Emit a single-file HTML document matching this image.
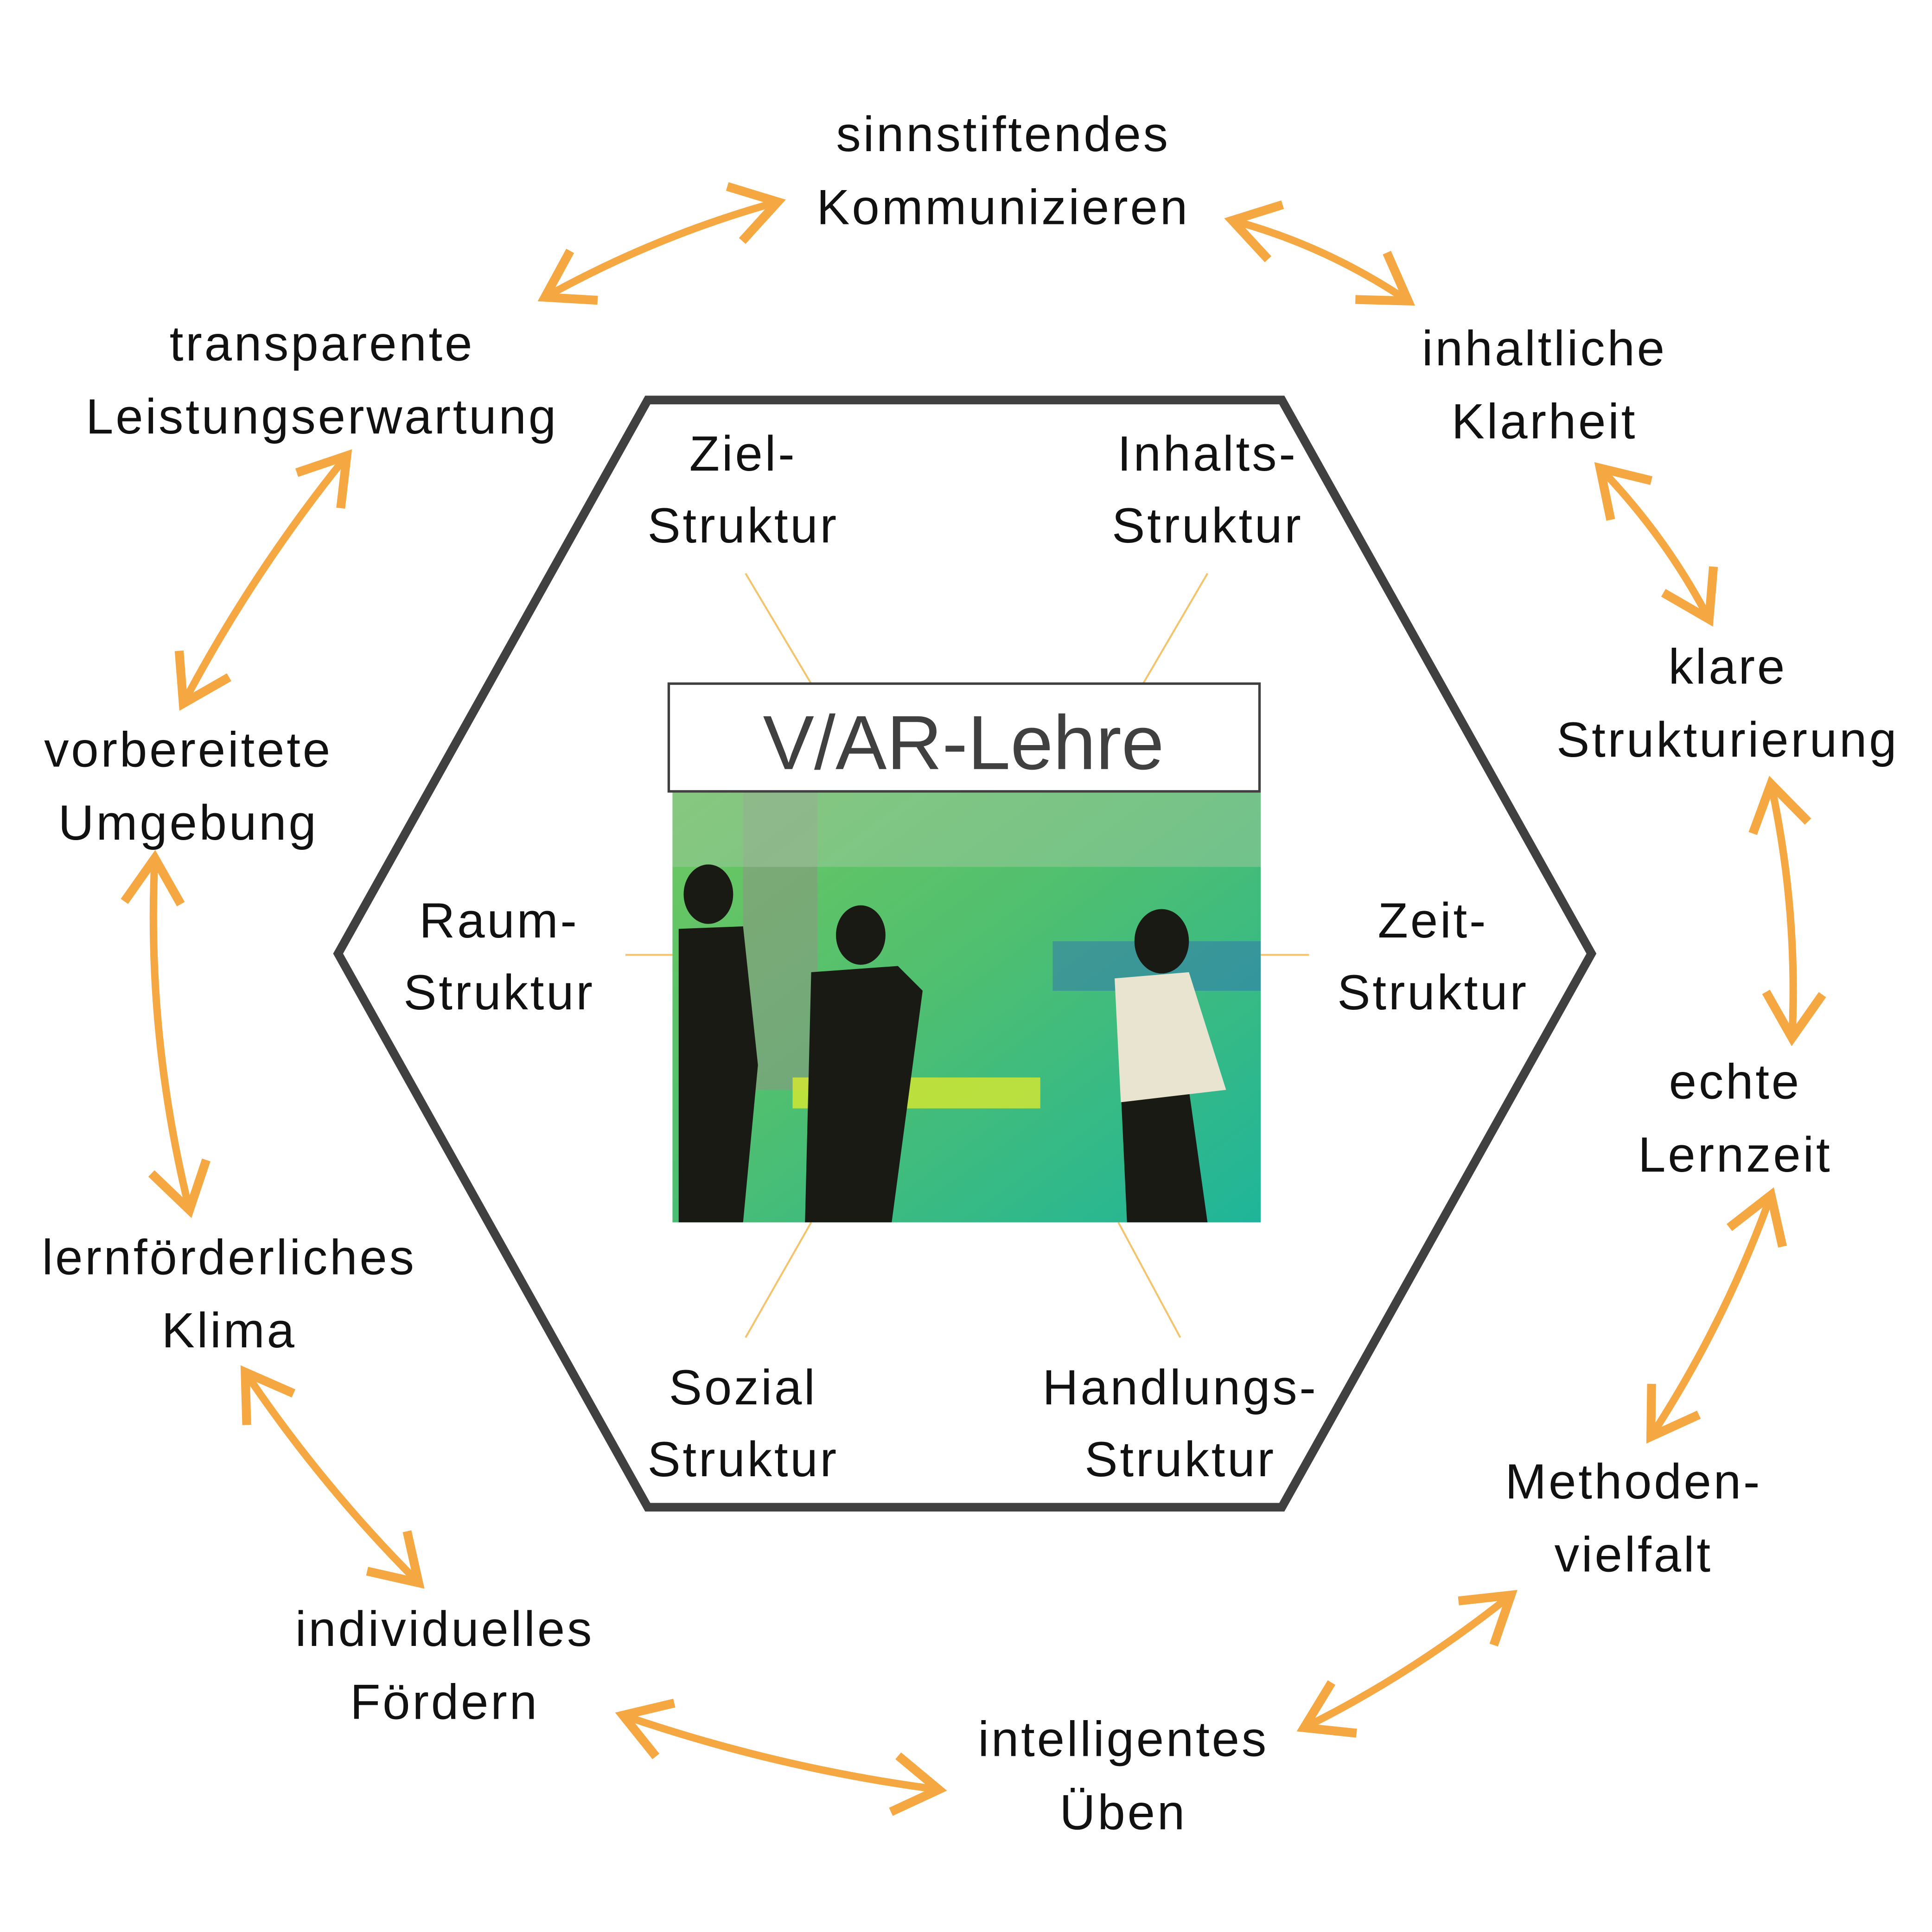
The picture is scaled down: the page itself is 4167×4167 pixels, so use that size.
<!DOCTYPE html>
<html><head><meta charset="utf-8">
<style>
html,body{margin:0;padding:0;background:#fff;}
svg{display:block;}
text{font-family:"Liberation Sans",sans-serif;fill:#111;}
.lb{letter-spacing:1.8px;}
</style></head>
<body>
<svg width="4167" height="4167" viewBox="0 0 1560 1560" xmlns="http://www.w3.org/2000/svg">
<defs>
<marker id="ah" markerUnits="userSpaceOnUse" markerWidth="60" markerHeight="60" viewBox="0 0 50 50" refX="42" refY="25" orient="auto-start-reverse">
<path d="M12,6 L42,25 L12,44" fill="none" stroke="#F5A742" stroke-width="6"/>
</marker>
<linearGradient id="pg" x1="0" y1="0" x2="1" y2="1">
<stop offset="0" stop-color="#6fc860"/>
<stop offset="0.45" stop-color="#4fbf70"/>
<stop offset="1" stop-color="#1fb59a"/>
</linearGradient>
</defs>
<rect width="1560" height="1560" fill="#fff"/>
<polygon points="523,323 1035,323 1285,770 1035,1217 523,1217 273,770" fill="none" stroke="#404040" stroke-width="7"/>
<g stroke="#F5C36B" stroke-width="1.5">
<line x1="602" y1="463" x2="655" y2="552"/>
<line x1="975" y1="463" x2="923" y2="552"/>
<line x1="505" y1="771" x2="543" y2="771"/>
<line x1="1018" y1="771" x2="1057" y2="771"/>
<line x1="655" y1="987" x2="602" y2="1080"/>
<line x1="903" y1="987" x2="953" y2="1080"/>
</g>
<rect x="540" y="552" width="477" height="87" fill="#fff" stroke="#404040" stroke-width="2"/>
<text x="778" y="621" font-size="62" text-anchor="middle" style="fill:#404040">V/AR-Lehre</text>
<rect x="543" y="640" width="475" height="347" fill="url(#pg)"/>
<rect x="600" y="640" width="60" height="240" fill="#8a9a80" opacity="0.6"/>
<rect x="543" y="640" width="475" height="60" fill="#9fc8a0" opacity="0.5"/>
<rect x="640" y="870" width="200" height="25" fill="#d8e830" opacity="0.8"/>
<rect x="850" y="760" width="168" height="40" fill="#3060c0" opacity="0.4"/>
<g fill="#1a1a14">
<ellipse cx="572" cy="722" rx="20" ry="24"/>
<path d="M548,750 L600,748 L612,860 L600,987 L548,987 Z"/>
<ellipse cx="695" cy="755" rx="20" ry="24"/>
<path d="M655,785 L725,780 L745,800 L720,987 L650,987 Z"/>
<ellipse cx="938" cy="760" rx="22" ry="26"/>
<path d="M905,880 L960,880 L975,987 L910,987 Z"/>
</g>
<path d="M900,790 L960,785 L990,880 L905,890 Z" fill="#e8e4d0"/>
<g font-size="40" text-anchor="middle" class="lb">
<text x="600" y="380">Ziel-</text><text x="600" y="438">Struktur</text>
<text x="975" y="380">Inhalts-</text><text x="975" y="438">Struktur</text>
<text x="403" y="757">Raum-</text><text x="403" y="815">Struktur</text>
<text x="1157" y="757">Zeit-</text><text x="1157" y="815">Struktur</text>
<text x="600" y="1134">Sozial</text><text x="600" y="1192">Struktur</text>
<text x="953" y="1134">Handlungs-</text><text x="953" y="1192">Struktur</text>
<text x="810" y="122">sinnstiftendes</text><text x="810" y="181">Kommunizieren</text>
<text x="1247" y="295">inhaltliche</text><text x="1247" y="354">Klarheit</text>
<text x="1395" y="552">klare</text><text x="1395" y="611">Strukturierung</text>
<text x="1401" y="887">echte</text><text x="1401" y="946">Lernzeit</text>
<text x="1319" y="1210">Methoden-</text><text x="1319" y="1269">vielfalt</text>
<text x="907" y="1418">intelligentes</text><text x="907" y="1477">Üben</text>
<text x="359" y="1329">individuelles</text><text x="359" y="1388">Fördern</text>
<text x="185" y="1029">lernförderliches</text><text x="185" y="1088">Klima</text>
<text x="152" y="619">vorbereitete</text><text x="152" y="678">Umgebung</text>
<text x="260" y="291">transparente</text><text x="260" y="350">Leistungserwartung</text>
</g>
<g fill="none" stroke="#F5A742" stroke-width="6" marker-start="url(#ah)" marker-end="url(#ah)">
<path d="M440,240 Q530,190 628,163"/>
<path d="M995,178 Q1070,198 1137,243"/>
<path d="M1292,378 Q1345,433 1380,500"/>
<path d="M1430,633 Q1452,735 1447,838"/>
<path d="M1430,965 Q1393,1068 1333,1160"/>
<path d="M1220,1288 Q1140,1352 1053,1395"/>
<path d="M758,1445 Q628,1428 503,1385"/>
<path d="M338,1278 Q260,1200 198,1108"/>
<path d="M153,977 Q118,835 125,693"/>
<path d="M148,568 Q204,462 280,368"/>
</g>
</svg>
</body></html>
